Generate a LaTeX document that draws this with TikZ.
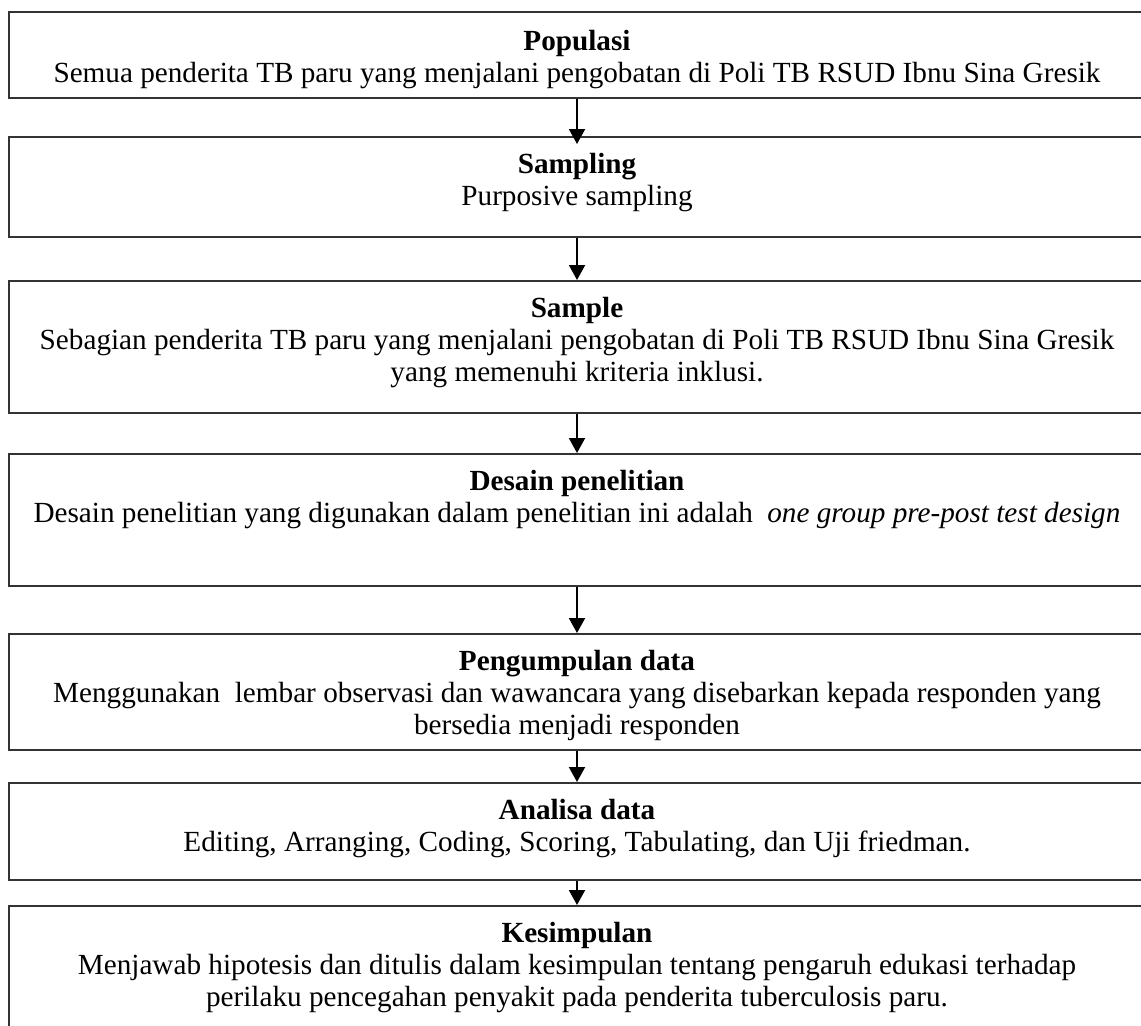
\documentclass[tikz,border=0pt]{standalone}
\usepackage{fontspec}
\setmainfont{Liberation Serif}
\usetikzlibrary{arrows.meta}

\begin{document}
\begin{tikzpicture}[x=0.5pt,y=-0.5pt,
        kotak/.style={draw=black!80, line width=1pt, minimum width=568pt, inner sep=0pt},
        isi/.style={anchor=north, align=center, inner sep=0pt, font=\fontsize{14.6}{16}\selectfont},
        panah/.style={-{Triangle[width=8pt,length=7.5pt]}, line width=1pt}]
        \useasboundingbox (0,0) rectangle (1141,1025);
        % kotak-kotak alur
        \node[kotak, minimum height=43pt] (populasi) at (577,55) {};
        \node[kotak, minimum height=50pt] (sampling) at (577,187) {};
        \node[kotak, minimum height=66pt] (sample) at (577,347) {};
        \node[kotak, minimum height=66pt] (desain) at (577,520) {};
        \node[kotak, minimum height=58pt] (pengumpulan) at (577,692) {};
        \node[kotak, minimum height=48.5pt] (analisa) at (577,831.5) {};
        \node[kotak, minimum height=77pt] (kesimpulan) at (577,983) {};
        % isi tiap kotak
        \node[isi] (tpopulasi) at ([yshift=-8.3pt]populasi.north) {\strut\textbf{Populasi}\\Semua penderita TB paru yang menjalani pengobatan di Poli TB RSUD Ibnu Sina Gresik};
        \node[isi] (tsampling) at ([yshift=-7.3pt]sampling.north) {\strut\textbf{Sampling}\\Purposive sampling};
        \node[isi] (tsample) at ([yshift=-7.3pt]sample.north) {\strut\textbf{Sample}\\Sebagian penderita TB paru yang menjalani pengobatan di Poli TB RSUD Ibnu Sina Gresik\\yang memenuhi kriteria inklusi.};
        \node[isi] (tdesain) at ([yshift=-7.3pt]desain.north) {\strut\textbf{Desain penelitian}\\Desain penelitian yang digunakan dalam penelitian ini adalah~ \textit{one group pre-post test design}};
        \node[isi] (tpengumpulan) at ([yshift=-7.3pt]pengumpulan.north) {\strut\textbf{Pengumpulan data}\\Menggunakan~ lembar observasi dan wawancara yang disebarkan kepada responden yang\\bersedia menjadi responden};
        \node[isi] (tanalisa) at ([yshift=-7.3pt]analisa.north) {\strut\textbf{Analisa data}\\Editing, Arranging, Coding, Scoring, Tabulating, dan Uji friedman.};
        \node[isi] (tkesimpulan) at ([yshift=-7.3pt]kesimpulan.north) {\strut\textbf{Kesimpulan}\\Menjawab hipotesis dan ditulis dalam kesimpulan tentang pengaruh edukasi terhadap\\perilaku pencegahan penyakit pada penderita tuberculosis paru.};
        % panah
        \draw[panah, shorten >=-4pt] (populasi.south) -- (sampling.north);
        \draw[panah] (sampling.south) -- (sample.north);
        \draw[panah] (sample.south) -- (desain.north);
        \draw[panah] (desain.south) -- (pengumpulan.north);
        \draw[panah] (pengumpulan.south) -- (analisa.north);
        \draw[panah] (analisa.south) -- (kesimpulan.north);
    \end{tikzpicture}
\end{document}
